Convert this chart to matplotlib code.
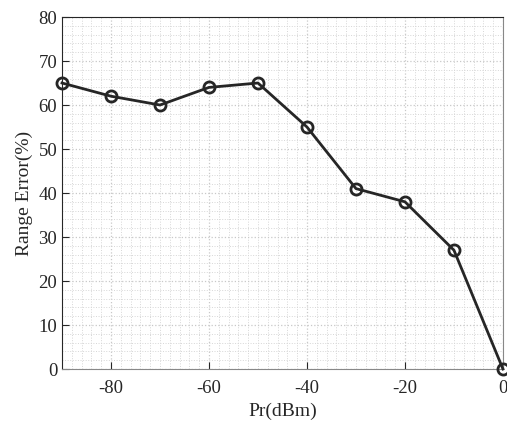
import matplotlib
matplotlib.use("Agg")
import matplotlib.pyplot as plt
import numpy as np
from matplotlib.ticker import MultipleLocator

pr = [-90, -80, -70, -60, -50, -40, -30, -20, -10, 0]
err = [65, 62, 60, 64, 65, 55, 41, 38, 27, 0]

plt.rcParams['font.family'] = ['Liberation Serif', 'DejaVu Serif']
plt.rcParams['axes.unicode_minus'] = False
fig = plt.figure(figsize=(5.07, 4.21), dpi=100)
ax = fig.add_axes([0.1223, 0.1235, 0.8697, 0.8361])
ax.plot(pr, err, color='#262626', lw=2, marker='o', ms=8, mfc='none', mew=2, clip_on=False, zorder=5)
ax.set_xlim(-90, 0)
ax.set_ylim(0, 80)
ax.set_xticks([-80, -60, -40, -20, 0])
ax.set_yticks(range(0, 81, 10))
ax.xaxis.set_minor_locator(MultipleLocator(2))
ax.yaxis.set_minor_locator(MultipleLocator(2))
ax.grid(which='major', color='#c8c8c8', ls=':', lw=0.9)
ax.grid(which='minor', color='#d6d6d6', ls=':', lw=0.7)
ax.set_axisbelow(True)
ax.tick_params(which='major', direction='in', length=5, labelsize=13.5, color='#262626', labelcolor='#262626')
ax.tick_params(which='minor', length=0)
ax.tick_params(axis='x', pad=8)
for s in ['left', 'top']:
    ax.spines[s].set_color('#262626')
ax.spines['bottom'].set_color('#888888')
ax.spines['right'].set_color('#888888')
ax.set_xlabel('Pr(dBm)', fontsize=14, color='#262626')
ax.set_ylabel('Range Error(%)', fontsize=14, color='#262626')
fig.savefig('out.png', dpi=100)
